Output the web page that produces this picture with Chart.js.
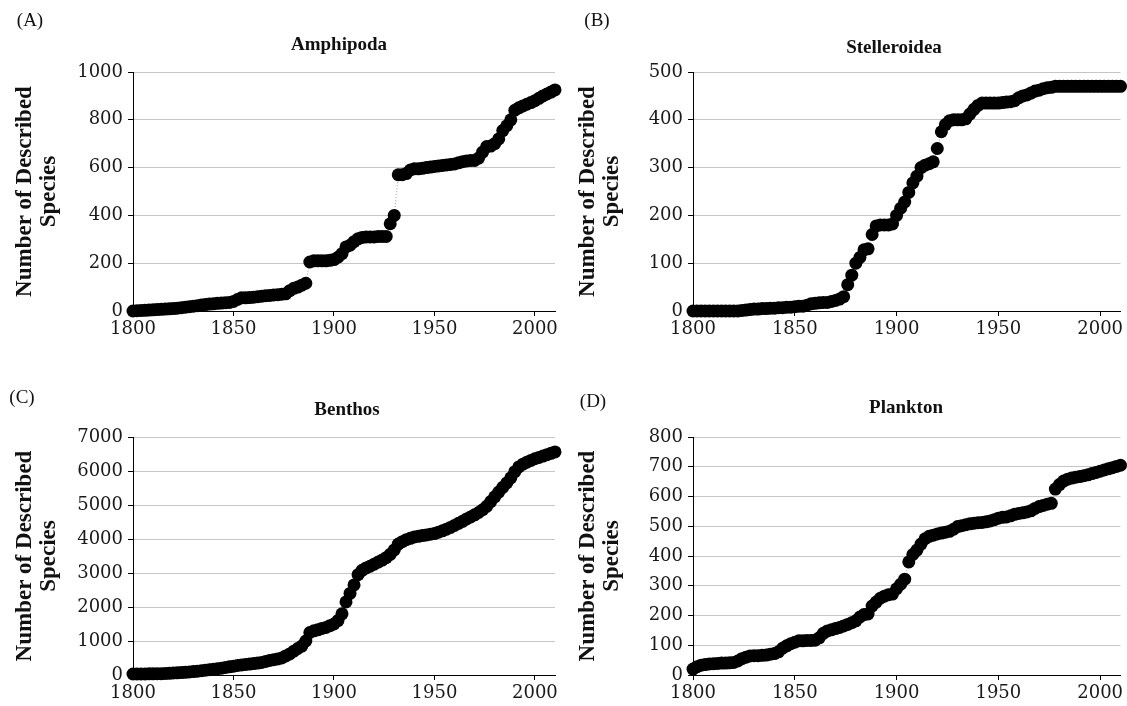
<!DOCTYPE html>
<html>
<head>
<meta charset="utf-8">
<script src="https://cdn.jsdelivr.net/npm/chart.js@4.4.1/dist/chart.umd.min.js"></script>
<style>
  html, body { margin: 0; padding: 0; background: #fff; }
  #wrap { position: relative; width: 1127px; height: 706px; overflow: hidden; }
  canvas { position: absolute; }
</style>
</head>
<body>
<div id="wrap">
  <canvas id="chartA" width="563" height="353" style="left:0;top:0"></canvas>
  <canvas id="chartB" width="564" height="353" style="left:563px;top:0"></canvas>
  <canvas id="chartC" width="563" height="353" style="left:0;top:353px"></canvas>
  <canvas id="chartD" width="564" height="353" style="left:563px;top:353px"></canvas>
</div>
<script>
"use strict";

// years sampled every two years, 1800 - 2010
var years = [1800,1802,1804,1806,1808,1810,1812,1814,1816,1818,
  1820,1822,1824,1826,1828,1830,1832,1834,1836,1838,
  1840,1842,1844,1846,1848,1850,1852,1854,1856,1858,
  1860,1862,1864,1866,1868,1870,1872,1874,1876,1878,
  1880,1882,1884,1886,1888,1890,1892,1894,1896,1898,
  1900,1902,1904,1906,1908,1910,1912,1914,1916,1918,
  1920,1922,1924,1926,1928,1930,1932,1934,1936,1938,
  1940,1942,1944,1946,1948,1950,1952,1954,1956,1958,
  1960,1962,1964,1966,1968,1970,1972,1974,1976,1978,
  1980,1982,1984,1986,1988,1990,1992,1994,1996,1998,
  2000,2002,2004,2006,2008,2010];

// cumulative number of described species
var amphipoda = [0,1,2,3,4,5,6,7,8,9,
  10,12,14,16,18,20,22,25,27,29,
  30,32,33,35,36,40,48,55,55,56,
  58,60,62,64,65,67,68,70,72,85,
  95,100,108,116,205,210,210,210,210,212,
  215,225,240,268,275,290,302,308,310,310,
  310,312,312,312,365,400,570,570,575,590,
  595,595,597,600,602,605,607,609,611,613,
  615,620,625,628,630,630,640,665,688,690,
  700,720,755,775,800,840,850,858,865,872,
  880,890,900,908,916,925];

var stelleroidea = [0,0,0,0,0,0,0,0,0,0,
  0,0,1,2,3,4,4,5,5,6,
  6,7,7,8,8,9,10,10,12,15,
  16,17,18,18,20,22,25,30,55,75,
  100,112,128,130,160,178,180,180,180,182,
  200,215,228,248,268,282,300,305,308,312,
  340,375,390,398,400,400,400,402,412,422,
  430,435,435,435,435,435,436,437,438,440,
  446,450,452,456,460,462,465,467,468,470,
  470,470,470,470,470,470,470,470,470,470,
  470,470,470,470,470,470];

var benthos = [30,30,30,30,35,35,40,40,45,50,
  60,65,70,80,90,100,110,125,140,155,
  170,185,200,220,240,260,280,295,310,320,
  335,350,370,400,430,450,470,500,560,620,
  700,780,850,1000,1250,1300,1330,1370,1400,1450,
  1500,1600,1800,2150,2400,2650,2950,3080,3150,3200,
  3260,3320,3380,3450,3550,3680,3850,3920,3980,4020,
  4060,4080,4100,4120,4140,4160,4200,4240,4290,4340,
  4400,4460,4520,4590,4650,4710,4780,4860,4960,5100,
  5240,5380,5520,5650,5800,5980,6120,6200,6260,6310,
  6360,6400,6440,6480,6520,6560];

var plankton = [20,28,33,35,37,38,39,40,40,41,
  42,47,55,60,64,65,65,66,67,70,
  72,78,90,98,105,110,115,115,116,116,
  117,125,140,148,152,156,160,165,170,176,
  182,195,203,205,232,245,258,265,270,272,
  290,305,322,380,405,420,440,458,466,470,
  474,477,480,483,490,499,502,505,508,510,
  512,513,515,518,522,527,530,531,535,540,
  543,545,548,552,560,566,570,574,577,625,
  640,652,658,662,665,667,670,673,677,681,
  685,689,693,697,701,705];

var panelTags = ['(A)', '(B)', '(C)', '(D)'];
var panelTitles = ['Amphipoda', 'Stelleroidea', 'Benthos', 'Plankton'];
var yMax = [1000, 500, 7000, 800];
var yStep = [200, 100, 1000, 100];
var xTicks = [1800, 1850, 1900, 1950, 2000];
var yTitle = ['Number of Described', 'Species'];

var SERIF = '"Liberation Serif", "DejaVu Serif", serif';
var TICKFONT = '"DejaVu Serif", "Liberation Serif", serif';

// draws the panel letter and the bold title
var panelText = {
  id: 'panelText',
  afterDraw: function(chart, args, opts) {
    var ctx = chart.ctx;
    ctx.save();
    ctx.fillStyle = '#111';
    ctx.textAlign = 'center';
    ctx.textBaseline = 'middle';
    ctx.font = '19px ' + SERIF;
    ctx.fillText(opts.tag, opts.tagX, opts.tagY);
    ctx.font = 'bold 19px ' + SERIF;
    ctx.fillText(opts.title, opts.titleX, opts.titleY);
    ctx.restore();
  }
};

function plain(v) { return String(v); }

function makeChart(id, idx, values, box) {
  var pts = years.map(function(y, i) { return {x: y, y: values[i]}; });
  var ctx = document.getElementById(id).getContext('2d');
  return new Chart(ctx, {
    type: 'scatter',
    data: {
      datasets: [{
        data: pts,
        showLine: true,
        borderColor: '#9a9a9a',
        borderWidth: 1,
        borderDash: [1, 2],
        pointRadius: 6.5,
        pointBackgroundColor: '#000',
        pointBorderWidth: 0,
        pointHoverRadius: 6.5,
        clip: false
      }]
    },
    options: {
      responsive: false,
      animation: false,
      devicePixelRatio: 1,
      layout: {
        padding: {left: 0, top: box.top, right: box.w - box.right, bottom: 0}
      },
      plugins: {
        legend: { display: false },
        tooltip: { enabled: false },
        panelText: {
          tag: panelTags[idx], tagX: box.tagX, tagY: box.tagY,
          title: panelTitles[idx], titleX: box.titleX, titleY: box.titleY
        }
      },
      scales: {
        x: {
          type: 'linear',
          min: 1800,
          max: 2010,
          afterBuildTicks: function(s) {
            s.ticks = xTicks.map(function(v) { return {value: v}; });
          },
          afterFit: function(s) { s.height = box.h - box.bottom; },
          ticks: {
            includeBounds: false,
            callback: plain,
            color: '#1a1a1a',
            font: { family: TICKFONT, size: 18 },
            padding: 3,
            maxRotation: 0
          },
          grid: {
            drawOnChartArea: false,
            drawTicks: true,
            tickLength: 5,
            tickColor: '#000'
          },
          border: { color: '#000', width: 1 }
        },
        y: {
          min: 0,
          max: yMax[idx],
          afterFit: function(s) { s.width = box.left; },
          ticks: {
            stepSize: yStep[idx],
            callback: plain,
            color: '#1a1a1a',
            font: { family: TICKFONT, size: 18 },
            padding: 5
          },
          grid: {
            color: '#c6c6c6',
            lineWidth: 1,
            drawTicks: true,
            tickLength: 5,
            tickColor: '#000'
          },
          border: { color: '#000', width: 1 },
          title: {
            display: true,
            text: yTitle,
            color: '#111',
            font: { family: SERIF, size: 23, weight: 'bold', lineHeight: 1.05 },
            padding: { top: 13, bottom: 0 }
          }
        }
      }
    },
    plugins: [panelText]
  });
}

// plot boxes in canvas pixels
makeChart('chartA', 0, amphipoda, {w: 563, h: 353, left: 133, right: 555, top: 72, bottom: 311,
  tagX: 30, tagY: 21, titleX: 339, titleY: 45});
makeChart('chartB', 1, stelleroidea, {w: 564, h: 353, left: 130, right: 564, top: 72, bottom: 311,
  tagX: 34, tagY: 21, titleX: 331, titleY: 48});
makeChart('chartC', 2, benthos, {w: 563, h: 353, left: 133, right: 555, top: 84, bottom: 322,
  tagX: 22, tagY: 45, titleX: 347, titleY: 57});
makeChart('chartD', 3, plankton, {w: 564, h: 353, left: 130, right: 564, top: 84, bottom: 322,
  tagX: 30, tagY: 49, titleX: 343, titleY: 55});
</script>
</body>
</html>
